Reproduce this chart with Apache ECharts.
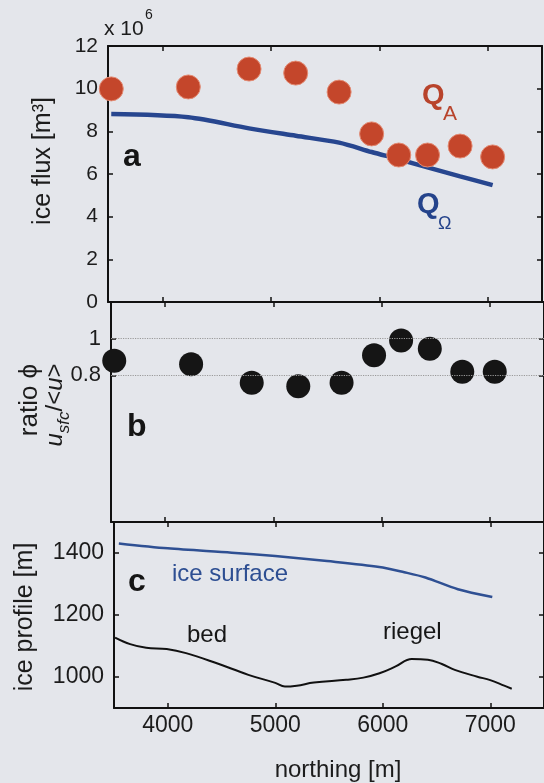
<!DOCTYPE html>
<html><head><meta charset="utf-8">
<script src="https://cdn.jsdelivr.net/npm/echarts@6/dist/echarts.min.js"></script>
<style>html,body{margin:0;padding:0;background:#e4e6eb;}#c{width:544px;height:783px;}</style>
</head><body><div id="c"></div>
<script>
// ---- data ----
const northing   = [3530, 4240, 4800, 5230, 5630, 5930, 6180, 6445, 6745, 7045];
const fluxA      = [9.99, 10.08, 10.92, 10.73, 9.84, 7.88, 6.89, 6.89, 7.31, 6.80];   // x 10^6 m^3
const fluxOmega  = [8.81, 8.66, 8.14, 7.79, 7.47, 7.03, 6.69, 6.31, 5.89, 5.48];
const ratioPhi   = [0.88, 0.86, 0.76, 0.74, 0.76, 0.91, 0.99, 0.945, 0.82, 0.82];
const ratioRefLines = [0.8, 1.0];
const surfaceX = [3545, 4000, 4595, 5000, 5482, 5967, 6200, 6397, 6699, 7019];
const surfaceZ = [1431, 1415, 1401, 1390, 1374, 1355, 1338, 1321, 1283, 1258];
const bedX = [3510, 3650, 3800, 3990, 4170, 4450, 4750, 5000, 5090, 5200, 5360, 5660, 5820, 5970, 6120, 6270, 6420, 6550, 6670, 6880, 7000, 7130, 7200];
const bedZ = [1127, 1106, 1094, 1090, 1077, 1045, 1007, 981, 969, 972, 982, 991, 998, 1012, 1034, 1058, 1056, 1042, 1023, 1001, 990, 972, 962];
const xTicks = [4000, 5000, 6000, 7000];
const fluxTicks = [0, 2, 4, 6, 8, 10, 12];
const ratioTicks = [0.8, 1];
const profileTicks = [1000, 1200, 1400];

const FONT = '"Liberation Sans", Arial, Helvetica, sans-serif';
const zip = (a, b) => a.map((v, i) => [v, b[i]]);

const chart = echarts.init(document.getElementById('c'));

function axisBase(gridIndex, position, min, max, ticks, labelShow, fontSize, margin) {
  return {
    type: 'value', gridIndex, position, min, max,
    axisLine: { show: true, onZero: false, lineStyle: { color: '#111', width: 2 } },
    axisTick: { show: true, inside: true, length: 5, customValues: ticks, lineStyle: { color: '#111', width: 1.5 } },
    axisLabel: { show: labelShow, customValues: ticks, color: '#1c1c1c', fontFamily: FONT, fontSize, margin,
                 formatter: v => String(v) },
    splitLine: { show: false }
  };
}

const xAxis = [
  axisBase(0, 'bottom', 3500, 7500, xTicks, false, 23, 6),
  axisBase(0, 'top', 3500, 7500, xTicks, false, 23, 6),
  axisBase(1, 'bottom', 3500, 7500, xTicks, false, 23, 6),
  axisBase(1, 'top', 3500, 7500, xTicks, false, 23, 6),
  axisBase(2, 'bottom', 3500, 7500, xTicks, true, 23, 6),
  axisBase(2, 'top', 3500, 7500, xTicks, false, 23, 6)
];
const yAxis = [
  axisBase(0, 'left', 0, 12, fluxTicks, true, 21, 10),
  axisBase(0, 'right', 0, 12, fluxTicks, false, 21, 10),
  axisBase(1, 'left', 0, 1.2, ratioTicks, true, 22, 10),
  axisBase(1, 'right', 0, 1.2, ratioTicks, false, 22, 10),
  axisBase(2, 'left', 900, 1500, profileTicks, true, 23, 10),
  axisBase(2, 'right', 900, 1500, profileTicks, false, 23, 10)
];

function txt(text, x, y, font, color, extra) {
  return Object.assign({ type: 'text', x, y, z: 100, silent: true,
    style: { text, font, fill: color, align: 'left', verticalAlign: 'middle' } }, extra || {});
}

const graphic = [
  txt('x 10', 104, 29, '21px ' + FONT, '#1c1c1c'),
  txt('6', 145, 15, '14px ' + FONT, '#1c1c1c'),
  txt('a', 123, 157, 'bold 32px ' + FONT, '#151515'),
  txt('b', 127, 427, 'bold 32px ' + FONT, '#151515'),
  txt('c', 128, 582, 'bold 32px ' + FONT, '#151515'),
  txt('Q', 422, 96, 'bold 29px ' + FONT, '#b8432b'),
  txt('A', 443, 114, '21px ' + FONT, '#b8432b'),
  txt('Q', 417, 205, 'bold 29px ' + FONT, '#24438b'),
  txt('\u03A9', 438, 224, '18px ' + FONT, '#24438b'),
  txt('ice surface', 172, 574, '24px ' + FONT, '#2d4e92'),
  txt('bed', 187, 635, '24px ' + FONT, '#161616'),
  txt('riegel', 383, 632, '24px ' + FONT, '#161616'),
  { type: 'text', x: 43, y: 161, rotation: Math.PI / 2, z: 100, silent: true,
    style: { text: 'ice flux [m\u00B3]', font: '25px ' + FONT, fill: '#1c1c1c', align: 'center', verticalAlign: 'middle' } },
  { type: 'text', x: 30, y: 400, rotation: Math.PI / 2, z: 100, silent: true,
    style: { text: 'ratio \u03D5', font: '26px ' + FONT, fill: '#1c1c1c', align: 'center', verticalAlign: 'middle' } },
  { type: 'text', x: 58, y: 405, rotation: Math.PI / 2, z: 100, silent: true,
    style: { text: '{u|u}{s|sfc}{n|/<}{u|u}{n|>}', align: 'center', verticalAlign: 'middle', fill: '#1c1c1c',
      rich: {
        u: { fontFamily: FONT, fontSize: 24, fontStyle: 'italic', lineHeight: 24, verticalAlign: 'top', fill: '#1c1c1c' },
        n: { fontFamily: FONT, fontSize: 24, lineHeight: 24, verticalAlign: 'top', fill: '#1c1c1c' },
        s: { fontFamily: FONT, fontSize: 17, fontStyle: 'italic', lineHeight: 30, verticalAlign: 'bottom', fill: '#1c1c1c' }
      } } },
  { type: 'text', x: 25, y: 617, rotation: Math.PI / 2, z: 100, silent: true,
    style: { text: 'ice profile [m]', font: '25px ' + FONT, fill: '#1c1c1c', align: 'center', verticalAlign: 'middle' } },
  txt('northing [m]', 338, 770, '24px ' + FONT, '#1c1c1c', { style: { text: 'northing [m]', font: '24px ' + FONT, fill: '#1c1c1c', align: 'center', verticalAlign: 'middle' } })
];

chart.setOption({
  backgroundColor: '#e4e6eb',
  animation: false,
  grid: [
    { left: 108, top: 46, width: 434, height: 256 },
    { left: 111, top: 302, width: 434, height: 220 },
    { left: 114, top: 522, width: 437, height: 186 }
  ],
  xAxis, yAxis, graphic,
  series: [
    { type: 'line', xAxisIndex: 0, yAxisIndex: 0, data: zip(northing, fluxOmega), showSymbol: false, smooth: 0.3,
      lineStyle: { color: '#27468f', width: 4.5 }, z: 2 },
    { type: 'scatter', xAxisIndex: 0, yAxisIndex: 0, data: zip(northing, fluxA), symbolSize: 24, clip: false,
      itemStyle: { color: '#c4462b', borderColor: '#e38a72', borderWidth: 1, opacity: 1 }, z: 3 },
    { type: 'scatter', xAxisIndex: 2, yAxisIndex: 2, data: zip(northing, ratioPhi), symbolSize: 24, clip: false,
      itemStyle: { color: '#151515', opacity: 1 }, z: 3,
      markLine: { silent: true, symbol: ['none', 'none'], label: { show: false },
        lineStyle: { color: '#9a9a9a', type: 'dotted', width: 1.2 },
        data: ratioRefLines.map(v => ({ yAxis: v })) } },
    { type: 'line', xAxisIndex: 4, yAxisIndex: 4, data: zip(surfaceX, surfaceZ), showSymbol: false, smooth: 0.3,
      lineStyle: { color: '#2f5093', width: 2.5 } },
    { type: 'line', xAxisIndex: 4, yAxisIndex: 4, data: zip(bedX, bedZ), showSymbol: false, smooth: 0.4,
      lineStyle: { color: '#111', width: 2 } }
  ]
});
</script></body></html>
